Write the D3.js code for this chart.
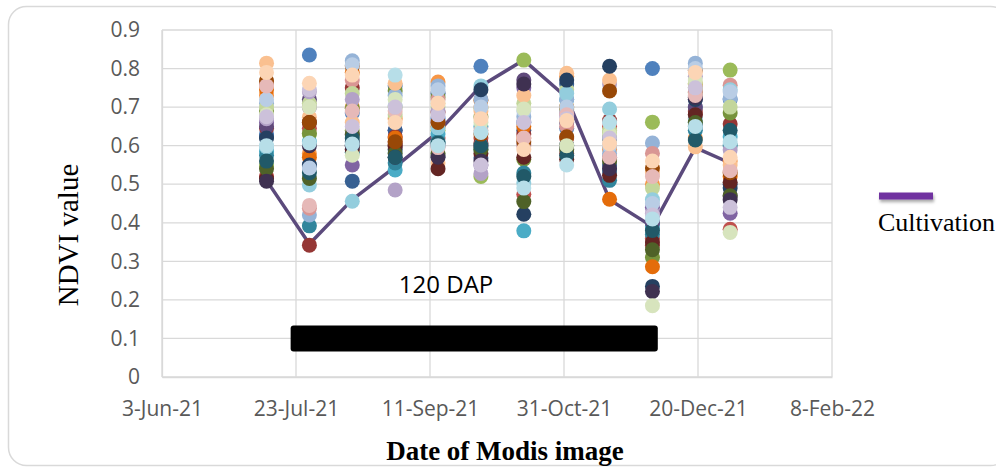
<!DOCTYPE html>
<html>
<head>
<meta charset="utf-8">
<script src="https://cdn.jsdelivr.net/npm/d3@7"></script>
<style>
  html, body { margin: 0; padding: 0; background: #fff; }
  svg { display: block; }
</style>
</head>
<body>
<svg id="chart" width="996" height="468"></svg>
<script>
// ---------------- DATA ----------------
const dates = ["2021-07-12","2021-07-28","2021-08-13","2021-08-29","2021-09-14","2021-09-30",
               "2021-10-16","2021-11-01","2021-11-17","2021-12-03","2021-12-19","2022-01-01"];
const cultivation = [0.51, 0.345, 0.46, 0.545, 0.635, 0.755, 0.822, 0.725, 0.46, 0.39, 0.595, 0.555];

// NDVI of the 30 sample series, one row per image date (value of series 0..29)
const ndviJul12 = [0.63,0.52,0.55,0.66,0.585,0.73,0.623,0.645,0.69,0.65,0.575,0.745,0.71,0.76,0.70,0.67,0.597,0.814,0.62,0.515,0.54,0.508,0.56,0.768,0.72,0.755,0.68,0.675,0.60,0.79];
const ndviJul28 = [0.835,0.645,0.63,0.70,0.61,0.58,0.55,0.342,0.632,0.72,0.392,0.57,0.42,0.438,0.71,0.74,0.498,0.674,0.55,0.66,0.515,0.60,0.53,0.66,0.542,0.445,0.70,0.745,0.607,0.762];
const ndviAug13 = [0.685,0.60,0.64,0.55,0.60,0.70,0.508,0.75,0.697,0.63,0.583,0.79,0.82,0.77,0.735,0.72,0.456,0.66,0.61,0.59,0.628,0.60,0.62,0.807,0.81,0.69,0.575,0.65,0.604,0.783];
const ndviAug29 = [0.755,0.61,0.70,0.64,0.537,0.67,0.64,0.623,0.742,0.60,0.555,0.62,0.73,0.60,0.68,0.485,0.583,0.762,0.59,0.60,0.58,0.57,0.57,0.61,0.705,0.69,0.72,0.70,0.783,0.66];
const ndviSep14 = [0.67,0.62,0.64,0.66,0.63,0.765,0.735,0.687,0.726,0.60,0.61,0.65,0.755,0.72,0.70,0.69,0.646,0.555,0.573,0.54,0.58,0.57,0.607,0.66,0.745,0.595,0.71,0.68,0.60,0.71];
const ndviSep30 = [0.806,0.62,0.52,0.55,0.65,0.70,0.568,0.607,0.675,0.60,0.59,0.718,0.72,0.60,0.697,0.528,0.755,0.69,0.745,0.58,0.59,0.56,0.60,0.63,0.70,0.64,0.66,0.55,0.634,0.67];
const ndviOct16 = [0.66,0.474,0.822,0.75,0.379,0.62,0.64,0.63,0.565,0.77,0.529,0.65,0.675,0.60,0.71,0.604,0.503,0.73,0.422,0.57,0.455,0.76,0.52,0.61,0.69,0.62,0.695,0.66,0.49,0.59];
const ndviNov01 = [0.645,0.62,0.70,0.68,0.72,0.78,0.76,0.58,0.695,0.66,0.60,0.70,0.72,0.65,0.745,0.685,0.735,0.788,0.77,0.565,0.59,0.60,0.575,0.623,0.70,0.68,0.60,0.67,0.55,0.665];
const ndviNov17 = [0.60,0.65,0.62,0.53,0.535,0.59,0.55,0.665,0.633,0.57,0.51,0.461,0.58,0.565,0.64,0.76,0.695,0.77,0.806,0.523,0.56,0.54,0.62,0.742,0.60,0.57,0.63,0.62,0.66,0.605];
const ndviDec03 = [0.80,0.36,0.661,0.44,0.39,0.50,0.402,0.342,0.31,0.40,0.37,0.286,0.607,0.58,0.49,0.425,0.46,0.53,0.235,0.35,0.33,0.222,0.38,0.542,0.45,0.52,0.185,0.42,0.41,0.56];
const ndviDec19 = [0.70,0.68,0.75,0.72,0.66,0.62,0.651,0.69,0.737,0.70,0.64,0.76,0.814,0.74,0.762,0.78,0.67,0.597,0.72,0.68,0.66,0.725,0.615,0.795,0.80,0.73,0.77,0.75,0.65,0.79];
const ndviJan01 = [0.72,0.383,0.796,0.425,0.623,0.56,0.50,0.656,0.685,0.47,0.60,0.52,0.723,0.757,0.70,0.589,0.745,0.55,0.49,0.505,0.47,0.46,0.64,0.53,0.74,0.535,0.375,0.44,0.61,0.57];
const ndviRows = [ndviJul12, ndviJul28, ndviAug13, ndviAug29, ndviSep14, ndviSep30,
                  ndviOct16, ndviNov01, ndviNov17, ndviDec03, ndviDec19, ndviJan01];

const xTickDates = ["2021-06-03","2021-07-23","2021-09-11","2021-10-31","2021-12-20","2022-02-08"];
const yTicks = [0, 0.1, 0.2, 0.3, 0.4, 0.5, 0.6, 0.7, 0.8, 0.9];
const dapLabel = "120 DAP";
const dapStart = "2021-07-21";
const dapEnd = "2021-12-05";
const dapValue = 0.1;
const legendLabel = "Cultivation";
const xTitle = "Date of Modis image";
const yTitle = "NDVI value";

// ---------------- STYLE ----------------
const palette = ["#4F81BD","#C0504D","#9BBB59","#8064A2","#4BACC6","#F79646",
                 "#376092","#953735","#77933C","#604A7B","#31859C","#E46C0A",
                 "#95B3D7","#D99694","#C3D69B","#B3A2C7","#93CDDD","#FAC090",
                 "#254061","#632523","#4F6228","#3F3151","#215968","#984807",
                 "#B9CDE5","#E6B9B8","#D7E4BD","#CCC1DA","#B7DEE8","#FCD5B5"];

const parse = d3.utcParse("%Y-%m-%d");
const svg = d3.select("#chart");

// outer rounded frame
svg.append("rect")
  .attr("x", 8.5).attr("y", 6.5).attr("width", 1000).attr("height", 459)
  .attr("rx", 18).attr("ry", 18)
  .attr("fill", "none").attr("stroke", "#d9d9d9").attr("stroke-width", 1.5);

const x = d3.scaleUtc()
  .domain([parse(xTickDates[0]), parse(xTickDates[xTickDates.length - 1])])
  .range([162, 832]);
const y = d3.scaleLinear().domain([0, 0.9]).range([377, 30]);

// gridlines
const grid = svg.append("g");
grid.selectAll("line.h").data(yTicks).join("line")
  .attr("x1", 162).attr("x2", 832)
  .attr("y1", d => y(d)).attr("y2", d => y(d))
  .attr("stroke", "#d9d9d9").attr("stroke-width", 1.3);
grid.selectAll("line.v").data(xTickDates).join("line")
  .attr("x1", d => x(parse(d))).attr("x2", d => x(parse(d)))
  .attr("y1", 30).attr("y2", 377)
  .attr("stroke", "#d9d9d9").attr("stroke-width", 1.3);

// axes
const fmtDate = d3.utcFormat("%-d-%b-%y");
const xAxis = d3.axisBottom(x)
  .tickValues(xTickDates.map(parse))
  .tickFormat(fmtDate).tickSize(0).tickPadding(24);
const gx = svg.append("g").attr("transform", "translate(0,377)").call(xAxis);
gx.select(".domain").attr("stroke", "#d9d9d9").attr("stroke-width", 1.3);
gx.selectAll("text").attr("fill", "#595959")
  .style("font-family", "'Open Sans', 'Noto Sans', sans-serif").style("font-size", "21px");

const yAxis = d3.axisLeft(y).tickValues(yTicks)
  .tickFormat(d => d === 0 ? "0" : d3.format(".1f")(d)).tickSize(0).tickPadding(22);
const gy = svg.append("g").attr("transform", "translate(162,0)").call(yAxis);
gy.select(".domain").attr("stroke", "#d9d9d9").attr("stroke-width", 1.3);
gy.selectAll("text").attr("fill", "#595959")
  .style("font-family", "'Open Sans', 'Noto Sans', sans-serif").style("font-size", "21px");

// 120 DAP bar
const barH = 26;
svg.append("rect")
  .attr("x", x(parse(dapStart))).attr("width", x(parse(dapEnd)) - x(parse(dapStart)))
  .attr("y", y(dapValue) - barH / 2).attr("height", barH)
  .attr("rx", 3).attr("fill", "#000");
svg.append("text")
  .attr("x", x(parse("2021-09-17"))).attr("y", y(0.218))
  .attr("text-anchor", "middle")
  .style("font-family", "'Open Sans', 'Noto Sans', sans-serif").style("font-size", "24px")
  .attr("fill", "#000").text(dapLabel);

// cultivation line (under the dots)
const line = d3.line().x((d, i) => x(parse(dates[i]))).y(d => y(d));
svg.append("path").datum(cultivation)
  .attr("d", line).attr("fill", "none")
  .attr("stroke", "#5B4A7C").attr("stroke-width", 3.5).attr("stroke-linejoin", "round");

// scatter dots: each series drawn in order
const nSeries = palette.length;
const dotsG = svg.append("g");
for (let s = 0; s < nSeries; s++) {
  const pts = dates.map((d, i) => ({ date: parse(d), v: ndviRows[i][s] }));
  dotsG.append("g").selectAll("circle").data(pts).join("circle")
    .attr("cx", d => x(d.date)).attr("cy", d => y(d.v)).attr("r", 7.5)
    .attr("fill", palette[s]);
}

// legend
const defs = svg.append("defs");
const f = defs.append("filter").attr("id", "sh").attr("filterUnits", "userSpaceOnUse")
  .attr("x", 860).attr("y", 180).attr("width", 100).attr("height", 40);
f.append("feDropShadow").attr("dx", 1).attr("dy", 2.5).attr("stdDeviation", 1.5)
  .attr("flood-color", "#000").attr("flood-opacity", 0.35);
svg.append("rect")
  .attr("x", 879).attr("y", 192.5).attr("width", 54).attr("height", 7)
  .attr("fill", "#7030A0").attr("filter", "url(#sh)");
svg.append("text")
  .attr("x", 878).attr("y", 231)
  .style("font-family", "'Liberation Serif', 'Times New Roman', serif").style("font-size", "26px")
  .attr("fill", "#000").text(legendLabel);

// axis titles
svg.append("text")
  .attr("transform", "translate(78,235) rotate(-90)")
  .attr("text-anchor", "middle")
  .style("font-family", "'Liberation Serif', 'Times New Roman', serif").style("font-size", "29px")
  .attr("fill", "#000").text(yTitle);
svg.append("text")
  .attr("x", 505).attr("y", 460).attr("text-anchor", "middle")
  .style("font-family", "'Liberation Serif', 'Times New Roman', serif").style("font-size", "27px")
  .style("font-weight", "bold")
  .attr("fill", "#000").text(xTitle);
</script>
</body>
</html>
